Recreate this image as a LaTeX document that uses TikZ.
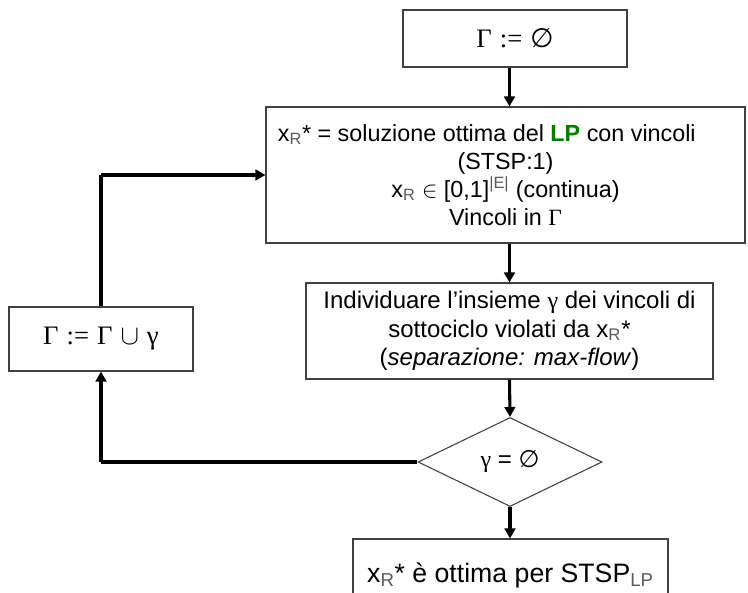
\documentclass[tikz,border=0pt]{standalone}
\usepackage{fontspec}
\setmainfont{Liberation Sans}
\newfontfamily\symserif{Liberation Serif}
\newfontfamily\symdeja{DejaVu Sans}
\usetikzlibrary{shapes.geometric,arrows.meta}
\definecolor{lpgreen}{RGB}{0,128,0}
\definecolor{subgray}{RGB}{90,90,90}
\newcommand{\Gup}{{\symserif Γ}}
\newcommand{\gup}{{\symserif γ}}
\newcommand{\emptysym}{{\symdeja\fontseries{l}\selectfont ∅}}
\newcommand{\xR}{x\textsubscript{\textcolor{subgray}{R}}}
\begin{document}
\begin{tikzpicture}[x=0.75pt,y=-0.75pt,
  box/.style={draw=black!75, line width=0.8pt, rectangle, inner sep=0pt, align=center,
    font=\fontsize{17.5}{21}\selectfont},
  decision/.style={draw=black!75, line width=0.8pt, diamond, inner sep=0pt, align=center,
    font=\fontsize{18}{21}\selectfont},
  flow/.style={line width=2.3pt, -{Triangle[width=8pt,length=7.5pt]}},
  link/.style={line width=2.3pt}]
\useasboundingbox (0,0) rectangle (748,592);

% main column of the algorithm
\coordinate (spine) at (509.5,0);
\node[box, minimum width=168pt, minimum height=42.75pt] (init) at (515,38.5)
  {\fontsize{20}{21}\selectfont\symserif Γ\hspace{0.3em}:=\hspace{0.3em}\emptysym};
\node[box, minimum width=359.25pt, minimum height=102pt] (lp) at (505.5,175)
  {\xR* = soluzione ottima del \textcolor{lpgreen}{\textbf{LP}} con vincoli\hspace*{28pt}\\
   (STSP:1)\\
   \xR\ $\in$ [0,1]\textsuperscript{\textcolor{subgray}{|E|}} (continua)\\
   Vincoli in \Gup};
\node[box, minimum width=305.25pt, minimum height=72pt, font=\fontsize{18}{21.4}\selectfont] (sep) at (509.5,331)
  {Individuare l’insieme \gup\ dei vincoli di\\
   sottociclo violati da \xR*\\
   (\textit{separazione: max-flow})};
\node[decision, minimum width=138pt, minimum height=66.75pt] (test) at (510,462)
  {\gup\ = \emptysym};
\node[box, minimum width=236.25pt, minimum height=54.75pt, font=\fontsize{20}{22}\selectfont] (opt) at (510.5,575.5)
  {\xR* è ottima per STSP\textsubscript{\textcolor{subgray}{LP}}};

% update box on the left
\node[box, minimum width=138pt, minimum height=48pt] (upd) at (101,339)
  {\fontsize{20}{21}\selectfont\symserif Γ\hspace{0.3em}:=\hspace{0.3em}Γ\hspace{0.3em}$\cup$\hspace{0.3em}γ};

% connectors
\draw[flow] (spine |- init.south) -- (spine |- lp.north);
\draw[flow] (spine |- lp.south) -- (spine |- sep.north);
\draw[flow] (spine |- sep.south) -- (test.north);
\draw[flow] (test.south) -- (test.south |- opt.north);
\draw[link] (test.west) -- (upd.south |- test.west);
\draw[flow] (upd.south |- test.west) -- (upd.south);
\draw[link] (upd.north) -- (upd.north |- lp.west);
\draw[flow] (upd.north |- lp.west) -- (lp.west);
\end{tikzpicture}
\end{document}
